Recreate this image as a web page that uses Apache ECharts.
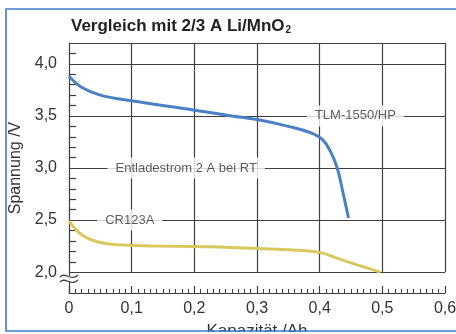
<!DOCTYPE html>
<html>
<head>
<meta charset="utf-8">
<script src="https://cdn.jsdelivr.net/npm/echarts@6/dist/echarts.min.js"></script>
<style>
  html, body { margin: 0; padding: 0; background: #fff; }
  #chart { width: 456px; height: 334px; }
</style>
</head>
<body>
<div id="chart"></div>
<script>
// TLM-1550/HP, [Kapazität Ah, Spannung V]
const tlmCurve = [
  [0, 3.88], [0.02, 3.775], [0.05, 3.7], [0.1, 3.645], [0.2, 3.555],
  [0.26, 3.5], [0.3, 3.465], [0.35, 3.4], [0.385, 3.34], [0.405, 3.27],
  [0.418, 3.15], [0.428, 3.0], [0.437, 2.77], [0.446, 2.52]
]
// CR123A
const crCurve = [
  [0, 2.49], [0.015, 2.385], [0.03, 2.325], [0.05, 2.285], [0.08, 2.262],
  [0.15, 2.25], [0.25, 2.24], [0.35, 2.215], [0.4, 2.19], [0.43, 2.13],
  [0.465, 2.06], [0.497, 2.0]
]
const xTicks = [0, 0.1, 0.2, 0.3, 0.4, 0.5, 0.6]
const yLabels = [2.0, 2.5, 3.0, 3.5, 4.0]
const yMinorTicks = [2.1, 2.2, 2.3, 2.4, 2.6, 2.7, 2.8, 2.9, 3.1, 3.2, 3.3, 3.4, 3.6, 3.7, 3.8, 3.9, 4.1]
const yTop = 4.2
// Beschriftungen im Diagramm
const annoText = ['TLM-1550/HP', 'Entladestrom 2 A bei RT', 'CR123A']
const annoX = [0.457, 0.187, 0.097]
const annoY = [3.5, 3.0, 2.5]

const gridColor = '#3f3f3f'
const comma = (v) => (v === 0 ? '0' : v.toFixed(1).replace('.', ','))

// Gitterlinien: waagerecht über ganze Breite, senkrecht nur von 2,0 bis oben
const gridLines = []
yLabels.concat([yTop]).forEach((y) => {
  gridLines.push([{ coord: [0, y] }, { coord: [0.6, y] }])
})
xTicks.slice(1).forEach((x) => {
  gridLines.push([{ coord: [x, 2.0] }, { coord: [x, yTop] }])
})

const chart = echarts.init(document.getElementById('chart'))
chart.setOption({
  animation: false,
  backgroundColor: '#fff',
  title: {
    text: '{a|Vergleich mit 2/3 A Li/MnO}{s|2}',
    left: 66,
    top: 11,
    textStyle: {
      rich: {
        a: { fontFamily: 'Liberation Sans', fontSize: 17, fontWeight: 'bold', color: '#222', lineHeight: 20 },
        s: { fontFamily: 'Liberation Sans', fontSize: 10, fontWeight: 'bold', color: '#222', lineHeight: 20, padding: [8, 0, 0, 1] }
      }
    }
  },
  grid: { left: 69, right: 11, top: 43, bottom: 41, containLabel: false, outerBoundsMode: 'none' },
  xAxis: {
    type: 'value',
    min: 0,
    max: 0.6,
    interval: 0.1,
    name: 'Kapazität /Ah',
    nameLocation: 'middle',
    nameGap: 30,
    nameTextStyle: { fontFamily: 'Liberation Sans', fontSize: 17, color: '#333' },
    axisLine: { show: true, lineStyle: { color: gridColor, width: 1.2 } },
    axisTick: { show: true, inside: true, length: 7, lineStyle: { color: gridColor, width: 1.2 } },
    minorTick: { show: true, splitNumber: 10, length: 4, lineStyle: { color: gridColor, width: 1 } },
    axisLabel: {
      fontFamily: 'Liberation Sans', fontSize: 16, color: '#333', margin: 8,
      formatter: comma
    },
    splitLine: { show: false }
  },
  yAxis: {
    type: 'value',
    min: 1.8,
    max: yTop,
    interval: 0.1,
    name: 'Spannung /V',
    nameLocation: 'middle',
    nameGap: 36,
    nameTextStyle: { fontFamily: 'Liberation Sans', fontSize: 16, color: '#333' },
    axisLine: { show: true, lineStyle: { color: gridColor, width: 1.2 } },
    axisTick: { show: true, inside: true, length: 7, customValues: yMinorTicks, lineStyle: { color: gridColor, width: 1.2 } },
    axisLabel: {
      fontFamily: 'Liberation Sans', fontSize: 16, color: '#333', margin: 12,
      customValues: yLabels,
      formatter: comma
    },
    splitLine: { show: false }
  },
  series: [
    {
      name: 'gitter',
      type: 'line',
      data: [],
      z: 1,
      silent: true,
      markLine: {
        z: 1,
        silent: true,
        symbol: ['none', 'none'],
        label: { show: false },
        lineStyle: { color: gridColor, width: 1.2, type: 'solid' },
        data: gridLines
      }
    },
    {
      name: 'beschriftung',
      type: 'scatter',
      z: 3,
      silent: true,
      symbolSize: 1,
      itemStyle: { color: 'transparent' },
      data: annoText.map((t, i) => [annoX[i], annoY[i], t]),
      label: {
        show: true,
        position: 'inside',
        formatter: (p) => p.data[2],
        fontFamily: 'Liberation Sans',
        fontSize: 13,
        color: '#333',
        backgroundColor: '#fff',
        padding: [4, 8]
      }
    },
    {
      name: 'CR123A',
      type: 'line',
      z: 4,
      data: crCurve,
      smooth: 0.4,
      showSymbol: false,
      lineStyle: { color: '#d9c85e', width: 3 }
    },
    {
      name: 'TLM-1550/HP',
      type: 'line',
      z: 4,
      data: tlmCurve,
      smooth: 0.4,
      showSymbol: false,
      lineStyle: { color: '#4a80c6', width: 3 }
    }
  ],
  graphic: [
    // Achsenbruch-Zeichen
    { type: 'rect', shape: { x: 64, y: 276, width: 10, height: 5 }, style: { fill: '#fff' }, z: 50 },
    { type: 'bezierCurve', shape: { x1: 60, y1: 277, cpx1: 65, cpy1: 271, cpx2: 71, cpy2: 282, x2: 78, y2: 275 }, style: { stroke: gridColor, lineWidth: 1.2, fill: null }, z: 51 },
    { type: 'bezierCurve', shape: { x1: 60, y1: 282, cpx1: 65, cpy1: 276, cpx2: 71, cpy2: 287, x2: 78, y2: 280 }, style: { stroke: gridColor, lineWidth: 1.2, fill: null }, z: 51 },
    // Rahmen
    { type: 'rect', shape: { x: 0, y: 332, width: 456, height: 2 }, style: { fill: '#fff' }, z: 60 },
    { type: 'rect', shape: { x: 6, y: 9, width: 470, height: 322 }, style: { fill: null, stroke: '#3d7cc6', lineWidth: 1.6 }, z: 61 }
  ]
})
</script>
</body>
</html>
